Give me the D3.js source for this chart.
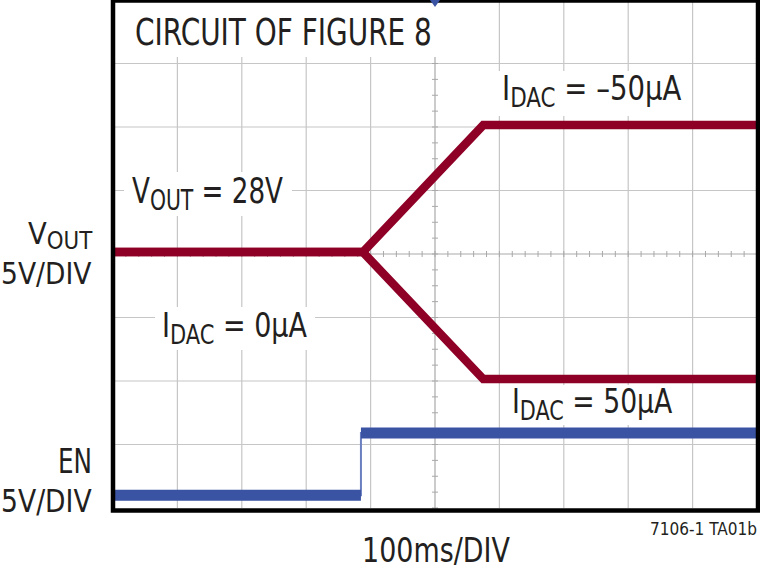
<!DOCTYPE html>
<html>
<head>
<meta charset="utf-8">
<script src="https://cdn.jsdelivr.net/npm/d3@7"></script>
<style>
  html, body { margin: 0; padding: 0; background: #fff; }
  svg { display: block; }
  text { font-family: "Liberation Sans Narrow", "DejaVu Sans Condensed", "Liberation Sans", sans-serif; fill: #231f20; }
</style>
</head>
<body>
<svg id="chart" width="760" height="571"></svg>
<script>
// scope capture, 100ms/DIV, 5V/DIV on both channels
const timeMs = [0, 388, 575, 1000];
const voutRise = [28, 28, 38, 38];   // IDAC = -50µA
const voutFall = [28, 28, 18, 18];   // IDAC = 50µA
const enTimeMs = [0, 385, 385, 1000];
const enVolts = [0, 0, 4.9, 4.9];
const timeGrid = d3.range(0, 1001, 100);
const divGrid = d3.range(0, 9);

const red = "#8f0027";
const blue = "#3b53a3";

const svg = d3.select("#chart");

// screen: 10 x 8 divisions
const x = d3.scaleLinear().domain([0, 1000]).range([113, 757]);
const yDiv = d3.scaleLinear().domain([0, 8]).range([508, 0]);
// VOUT 28V sits on div 4.03, EN ground on div 0.2, both 5V/div
const yVout = d3.scaleLinear().domain([28 - 4.03 * 5, 28 + 3.97 * 5]).range([508, 0]);
const yEn = d3.scaleLinear().domain([-0.2 * 5, 7.8 * 5]).range([508, 0]);

const grid = svg.append("g");

grid.selectAll(".vgrid")
  .data(timeGrid.slice(1, -1))
  .join("line")
  .attr("x1", d => x(d)).attr("x2", d => x(d))
  .attr("y1", yDiv(8)).attr("y2", yDiv(0))
  .attr("stroke", d => d === 500 ? "#a9a9a9" : "#c6c6c6")
  .attr("stroke-width", 1.2);

grid.selectAll(".hgrid")
  .data(divGrid.slice(1, -1))
  .join("line")
  .attr("x1", x(0)).attr("x2", x(1000))
  .attr("y1", d => yDiv(d)).attr("y2", d => yDiv(d))
  .attr("stroke", d => d === 4 ? "#a9a9a9" : "#c6c6c6")
  .attr("stroke-width", 1.2);

// minor ticks on the centre axes
grid.selectAll(".xminor")
  .data(d3.range(0, 1001, 20))
  .join("line")
  .attr("x1", d => x(d)).attr("x2", d => x(d))
  .attr("y1", yDiv(4) - 3).attr("y2", yDiv(4) + 3)
  .attr("stroke", "#a9a9a9");

grid.selectAll(".yminor")
  .data(d3.range(0, 8.01, 0.25))
  .join("line")
  .attr("x1", x(500) - 3).attr("x2", x(500) + 3)
  .attr("y1", d => yDiv(d)).attr("y2", d => yDiv(d))
  .attr("stroke", "#a9a9a9");

function addLabel(g, main, sub, rest, left, right, base, size, subShift = 0.2) {
  const t = g.append("text")
    .attr("x", 0).attr("y", base)
    .style("font-size", size + "px");
  t.append("tspan").text(main);
  if (sub) {
    t.append("tspan").attr("dy", size * subShift).style("font-size", (size * 0.78) + "px").text(sub);
    if (rest) t.append("tspan").attr("dy", -size * subShift).text(rest);
  }
  const bb = t.node().getBBox();
  const s = (right - left) / bb.width;
  t.attr("transform", `translate(${left},0) scale(${s},1) translate(${-bb.x},0)`);
  return t;
}

function boxBehind(g, x0, y0, x1, y1) {
  g.insert("rect", ":first-child")
    .attr("x", x0).attr("y", y0)
    .attr("width", x1 - x0).attr("height", y1 - y0)
    .attr("fill", "#fff");
}

// labels inside the screen, each on a white box
const inner = svg.append("g");
addLabel(inner, "CIRCUIT OF FIGURE 8", "", "", 135, 432, 45, 37);
boxBehind(inner, 115, 0, 440, 57);
addLabel(inner, "I", "DAC", " = \u201350\u00b5A", 502, 682, 100, 33);
boxBehind(inner, 495, 71, 690, 116);
addLabel(inner, "V", "OUT", " = 28V", 132, 283, 203, 36);
boxBehind(inner, 124, 172, 292, 216);
addLabel(inner, "I", "DAC", " = 0\u00b5A", 162, 307, 337, 34);
boxBehind(inner, 155, 307, 315, 350);
addLabel(inner, "I", "DAC", " = 50\u00b5A", 512, 673, 413, 33);
boxBehind(inner, 505, 385, 680, 425);

// traces
const line = d3.line();

svg.append("path")
  .attr("d", line(timeMs.map((t, i) => [x(t), yVout(voutRise[i])])))
  .attr("fill", "none").attr("stroke", red).attr("stroke-width", 8.5);
svg.append("path")
  .attr("d", line(timeMs.map((t, i) => [x(t), yVout(voutFall[i])])))
  .attr("fill", "none").attr("stroke", red).attr("stroke-width", 8.5);

// EN: thin edge, thick flat levels
const enPts = enTimeMs.map((t, i) => [x(t), yEn(enVolts[i])]);
svg.append("path")
  .attr("d", line(enPts))
  .attr("fill", "none").attr("stroke", "#6a7fc0").attr("stroke-width", 2);
svg.selectAll(".enlevel")
  .data(d3.pairs(enPts).filter(p => p[0][1] === p[1][1]))
  .join("path")
  .attr("d", d => line(d))
  .attr("fill", "none").attr("stroke", blue).attr("stroke-width", 11);

// frame
svg.append("rect")
  .attr("x", 113).attr("y", 0.5)
  .attr("width", 645).attr("height", 510)
  .attr("fill", "none").attr("stroke", "#000").attr("stroke-width", 4.5);

// trigger marker
svg.append("path")
  .attr("d", `M${x(500) - 5},0 L${x(500) + 5},0 L${x(500)},7 Z`)
  .attr("fill", blue);

// channel labels and footer
const outer = svg.append("g");
addLabel(outer, "V", "OUT", "", 28, 93, 244, 31, 0.15);
addLabel(outer, "5V/DIV", "", "", 1, 92, 284, 30);
addLabel(outer, "EN", "", "", 58, 92, 473, 34);
addLabel(outer, "5V/DIV", "", "", 1, 92, 512, 32);
addLabel(outer, "100ms/DIV", "", "", 362, 510, 562, 34);
addLabel(outer, "7106-1 TA01b", "", "", 650, 757, 535, 18);
</script>
</body>
</html>
